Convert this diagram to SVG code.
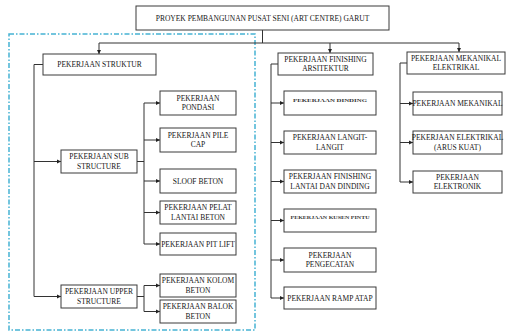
<svg xmlns="http://www.w3.org/2000/svg" width="507" height="336" viewBox="0 0 507 336">
<style>
.box{fill:#fff;stroke:#3a3a3a;stroke-width:1}
.t{font-family:"Liberation Serif","Times New Roman",serif;font-size:7.5px;fill:#151515;text-anchor:middle}
.g{font-weight:bold;fill:#333}
.c{fill:none;stroke:#333;stroke-width:1}
.a{fill:none;stroke:#333;stroke-width:1;marker-end:url(#ar)}
.dash{fill:none;stroke:#45b3d3;stroke-width:1.5;stroke-dasharray:5 2 1.5 2}
</style>
<defs>
<marker id="ar" viewBox="0 0 6 6" refX="6" refY="3" markerWidth="4.5" markerHeight="4.5" markerUnits="userSpaceOnUse" orient="auto">
<path d="M0,0 L6,3 L0,6 z" fill="#222"/>
</marker>
</defs>
<rect width="507" height="336" fill="#fff"/>
<rect class="dash" x="9" y="34" width="246" height="296"/>
<g id="connectors">
<path class="c" d="M262.5,30 V43 M99,43 H459"/>
<path class="a" d="M99,43 V54"/>
<path class="a" d="M330,43 V53"/>
<path class="a" d="M459,43 V52"/>
<path class="a" d="M43,64.5 H34 V296.5 H61"/>
<path class="a" d="M34,161.5 H61"/>
<path class="c" d="M137,161.5 H144 M144,103 V244"/>
<path class="a" d="M144,103 H160"/>
<path class="a" d="M144,140 H160"/>
<path class="a" d="M144,181 H160"/>
<path class="a" d="M144,212.5 H160"/>
<path class="a" d="M144,244 H160"/>
<path class="c" d="M137,296.5 H144 M144,285.5 V311.5"/>
<path class="a" d="M144,285.5 H160"/>
<path class="a" d="M144,311.5 H160"/>
<path class="c" d="M278,64 H271 V298"/>
<path class="a" d="M271,103 H284"/>
<path class="a" d="M271,142.5 H284"/>
<path class="a" d="M271,181.5 H284"/>
<path class="a" d="M271,220.5 H284"/>
<path class="a" d="M271,260 H284"/>
<path class="a" d="M271,298 H284"/>
<path class="c" d="M407,63 H400 V182"/>
<path class="a" d="M400,103.5 H413"/>
<path class="a" d="M400,142.5 H413"/>
<path class="a" d="M400,182 H413"/>
</g>
<g id="n-root"><rect class="box" x="136" y="6" width="253" height="24"/><text class="t" x="262.5" y="21">PROYEK PEMBANGUNAN PUSAT SENI (ART CENTRE) GARUT</text></g>
<g id="n-struktur"><rect class="box" x="43" y="54" width="113" height="21"/><text class="t" x="99.5" y="67">PEKERJAAN STRUKTUR</text></g>
<g id="n-sub"><rect class="box" x="61" y="150" width="76" height="23"/><text class="t" x="99" y="159">PEKERJAAN SUB</text><text class="t" x="99" y="168.5">STRUCTURE</text></g>
<g id="n-upper"><rect class="box" x="61" y="285" width="76" height="23"/><text class="t" x="99" y="294">PEKERJAAN UPPER</text><text class="t" x="99" y="303.5">STRUCTURE</text></g>
<g id="n-pondasi"><rect class="box" x="160" y="91" width="76" height="24"/><text class="t" x="198" y="100.5">PEKERJAAN</text><text class="t" x="198" y="110">PONDASI</text></g>
<g id="n-pilecap"><rect class="box" x="160" y="128" width="76" height="24"/><text class="t" x="198" y="137.5">PEKERJAAN PILE</text><text class="t" x="198" y="147">CAP</text></g>
<g id="n-sloof"><rect class="box" x="160" y="169" width="76" height="24"/><text class="t" x="198" y="183.7">SLOOF BETON</text></g>
<g id="n-pelat"><rect class="box" x="160" y="201" width="76" height="23"/><text class="t" x="198" y="210">PEKERJAAN PELAT</text><text class="t" x="198" y="219.5">LANTAI BETON</text></g>
<g id="n-pitlift"><rect class="box" x="160" y="233" width="76" height="22"/><text class="t" x="198" y="246.7">PEKERJAAN PIT LIFT</text></g>
<g id="n-kolom"><rect class="box" x="160" y="274" width="76" height="23"/><text class="t" x="198" y="283">PEKERJAAN KOLOM</text><text class="t" x="198" y="292.5">BETON</text></g>
<g id="n-balok"><rect class="box" x="160" y="300" width="76" height="23"/><text class="t" x="198" y="309">PEKERJAAN BALOK</text><text class="t" x="198" y="318.5">BETON</text></g>
<g id="n-finishing"><rect class="box" x="278" y="53" width="95" height="22"/><text class="t" x="325.5" y="61.5">PEKERJAAN FINISHING</text><text class="t" x="325.5" y="71">ARSITEKTUR</text></g>
<g id="n-f1"><rect class="box" x="284" y="91" width="92" height="24"/><text class="t g" transform="translate(330,101.5) scale(1,0.45)" x="0" y="0" textLength="74" lengthAdjust="spacingAndGlyphs">PEKERJAAN DINDING</text></g>
<g id="n-langit"><rect class="box" x="284" y="131" width="92" height="23"/><text class="t" x="330" y="140">PEKERJAAN LANGIT-</text><text class="t" x="330" y="149.5">LANGIT</text></g>
<g id="n-lantai"><rect class="box" x="284" y="170" width="92" height="23"/><text class="t" x="330" y="179">PEKERJAAN FINISHING</text><text class="t" x="330" y="188.5">LANTAI DAN DINDING</text></g>
<g id="n-f2"><rect class="box" x="284" y="209" width="92" height="23"/><text class="t g" transform="translate(330,218.5) scale(1,0.45)" x="0" y="0" textLength="79" lengthAdjust="spacingAndGlyphs">PEKERJAAN KUSEN PINTU</text></g>
<g id="n-cat"><rect class="box" x="284" y="248" width="92" height="24"/><text class="t" x="330" y="257.5">PEKERJAAN</text><text class="t" x="330" y="267">PENGECATAN</text></g>
<g id="n-ramp"><rect class="box" x="284" y="287" width="92" height="22"/><text class="t" x="330" y="300.7">PEKERJAAN RAMP ATAP</text></g>
<g id="n-me"><rect class="box" x="407" y="52" width="98" height="22"/><text class="t" x="456" y="60.5">PEKERJAAN MEKANIKAL</text><text class="t" x="456" y="70">ELEKTRIKAL</text></g>
<g id="n-mek"><rect class="box" x="413" y="92" width="89" height="23"/><text class="t" x="457.5" y="106.2">PEKERJAAN MEKANIKAL</text></g>
<g id="n-elek"><rect class="box" x="413" y="131" width="89" height="23"/><text class="t" x="457.5" y="140">PEKERJAAN ELEKTRIKAL</text><text class="t" x="457.5" y="149.5">(ARUS KUAT)</text></g>
<g id="n-elektronik"><rect class="box" x="413" y="171" width="89" height="22"/><text class="t" x="457.5" y="179.5">PEKERJAAN</text><text class="t" x="457.5" y="189">ELEKTRONIK</text></g>
</svg>
